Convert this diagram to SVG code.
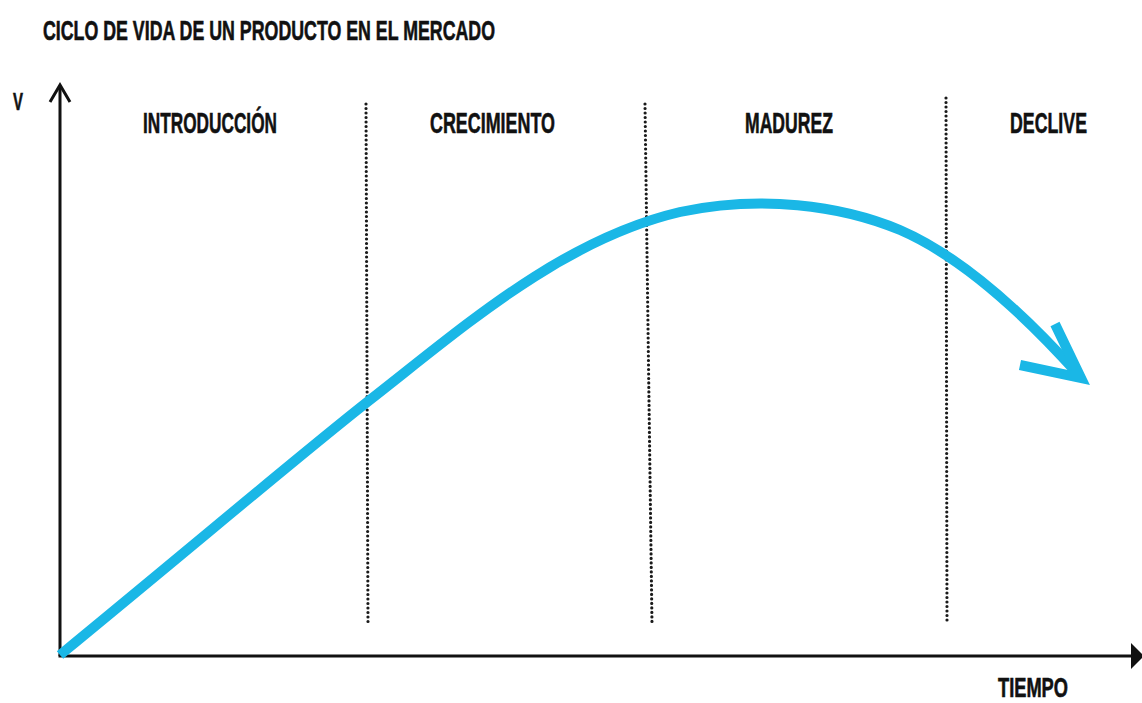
<svg xmlns="http://www.w3.org/2000/svg" width="1142" height="703" viewBox="0 0 1142 703">
<style>
.t{font-family:"Liberation Sans","DejaVu Sans",Arial,sans-serif;font-weight:bold;fill:#111;stroke:#111;stroke-width:0.6;}
.ax{stroke:#111;stroke-width:3;fill:none;}
.dot{stroke:#1a1a1a;stroke-width:3.2;stroke-linecap:round;stroke-dasharray:0 4.5;fill:none;}
.curve{stroke:#1ab7e6;stroke-width:10;fill:none;stroke-linecap:butt;}
</style>
<rect width="1142" height="703" fill="#fff"/>
<g id="title"><text class="t" x="43" y="39.5" font-size="27" textLength="452" lengthAdjust="spacingAndGlyphs">CICLO DE VIDA DE UN PRODUCTO EN EL MERCADO</text></g>
<g id="axes">
<line class="ax" x1="60" y1="87" x2="60" y2="656"/>
<polyline class="ax" points="50,102 60,85 70,102"/>
<line class="ax" x1="58.5" y1="656" x2="1134" y2="656"/>
<polygon points="1131,643 1144,656 1131,669" fill="#111"/>
</g>
<g id="label-v"><text class="t" x="13" y="110" font-size="24" textLength="10" lengthAdjust="spacingAndGlyphs">V</text></g>
<g id="label-tiempo"><text class="t" x="998" y="697" font-size="27" textLength="70" lengthAdjust="spacingAndGlyphs">TIEMPO</text></g>
<g id="dividers">
<line class="dot" x1="366" y1="104" x2="368" y2="624"/>
<line class="dot" x1="645" y1="104" x2="652" y2="624"/>
<line class="dot" x1="946" y1="98" x2="947" y2="621"/>
</g>
<g id="stage-introduccion"><text class="t" x="143" y="132.5" font-size="29" textLength="134" lengthAdjust="spacingAndGlyphs">INTRODUCCIÓN</text></g>
<g id="stage-crecimiento"><text class="t" x="430" y="132.5" font-size="29" textLength="125" lengthAdjust="spacingAndGlyphs">CRECIMIENTO</text></g>
<g id="stage-madurez"><text class="t" x="745" y="132.5" font-size="29" textLength="88" lengthAdjust="spacingAndGlyphs">MADUREZ</text></g>
<g id="stage-declive"><text class="t" x="1010" y="132.5" font-size="29" textLength="77" lengthAdjust="spacingAndGlyphs">DECLIVE</text></g>
<g id="connectors">
<path class="curve" d="M60,655 C200,540 300,455 366,403 C460,330 560,240 680,212 C760,195 840,205 900,230 C960,256 1020,310 1076,372"/>
<polyline class="curve" stroke-linejoin="miter" stroke-miterlimit="10" points="1055,324 1081,378 1020,365"/>
</g>
</svg>
